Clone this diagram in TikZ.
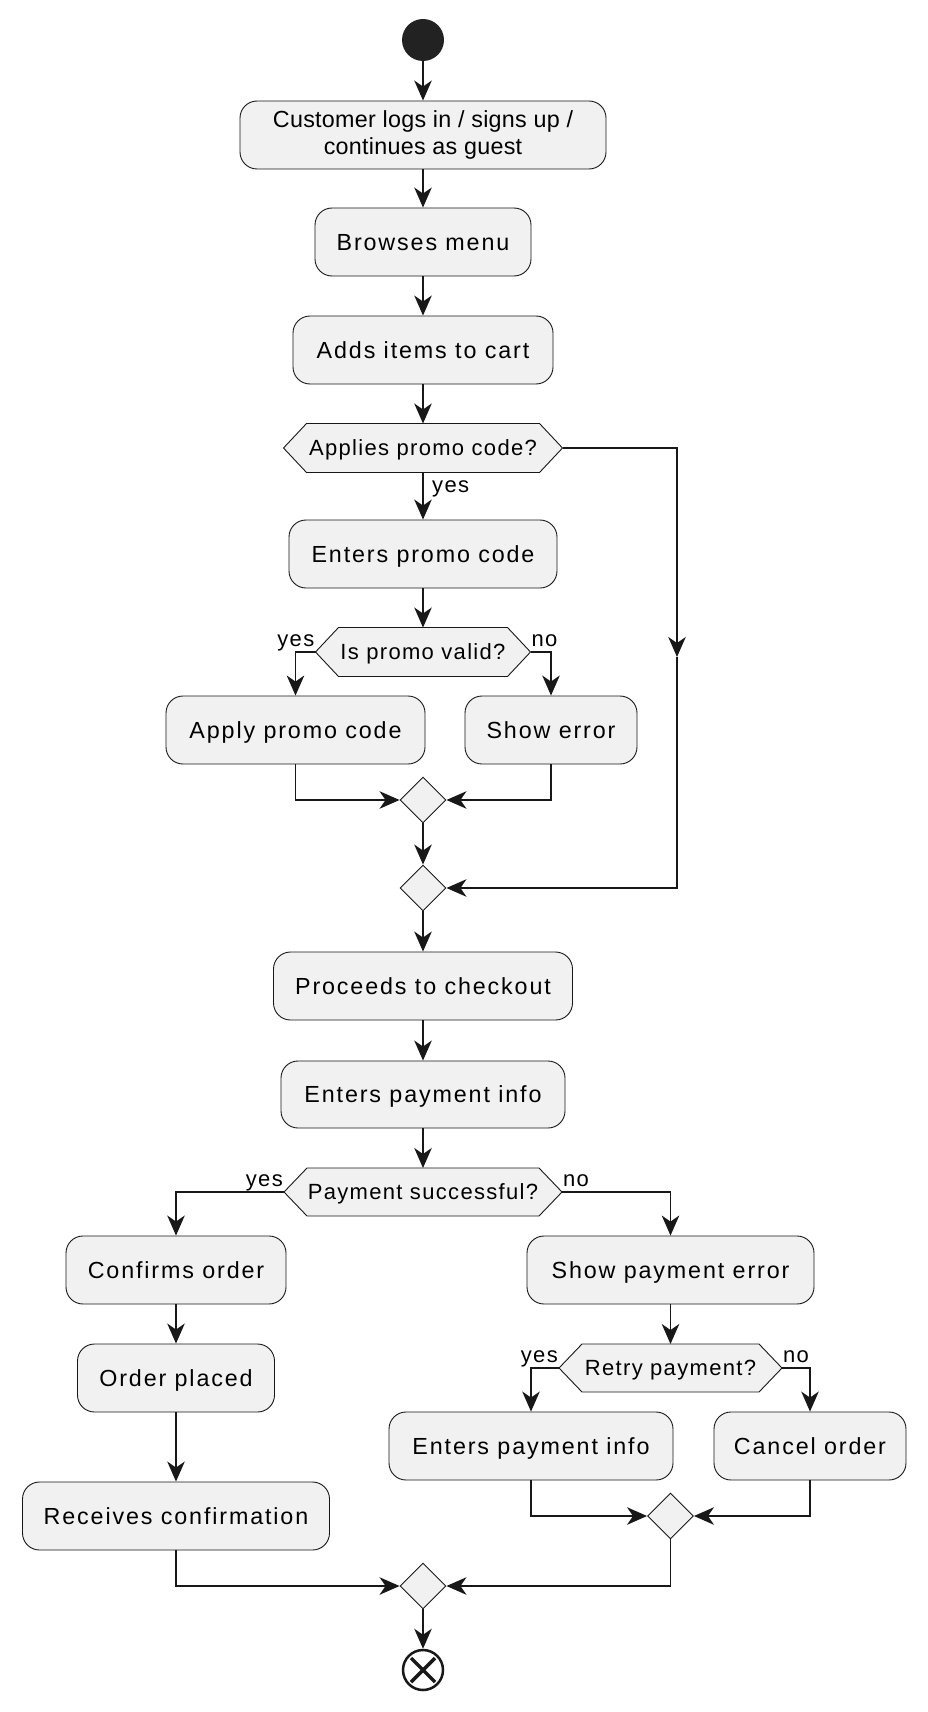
\documentclass[tikz,border=0pt]{standalone}
\usepackage{fontspec}
\setmainfont{Liberation Sans}
\newfontfamily\boxfam[LetterSpace=8]{Liberation Sans}
\newfontfamily\hexfam[LetterSpace=6]{Liberation Sans}
\newfontfamily\twofam[LetterSpace=1.2]{Liberation Sans}
\usetikzlibrary{arrows.meta,shapes.geometric,backgrounds}
\definecolor{cfill}{HTML}{F1F1F1}
\definecolor{cline}{HTML}{181818}
\definecolor{cstart}{HTML}{222222}
\tikzset{
  actbox/.style={draw=cline, fill=cfill, line width=0.9pt, rounded corners=17pt, inner sep=0pt,
    minimum height=68pt, text=black},
  oneline/.style={actbox, font=\boxfam\fontsize{23.3}{27}\selectfont, text height=16.7pt, text depth=0pt},
  hexnode/.style={inner sep=0pt, outer sep=0pt, minimum height=49pt, text=black,
    font=\hexfam\fontsize{22}{26}\selectfont, text height=15.7pt, text depth=0pt},
  hexline/.style={draw=cline, fill=cfill, line width=0.9pt},
  merge/.style={diamond, draw=cline, fill=cfill, line width=0.9pt, inner sep=0pt,
    minimum width=46pt, minimum height=46pt},
  flow/.style={draw=cline, line width=1.5pt, -{Stealth[length=20pt,width=17.5pt,inset=6pt]}},
  lbl/.style={font=\hexfam\fontsize{22}{26}\selectfont, inner sep=0pt, text=black},
}
\newcommand\hexbg[1]{%
  \draw[hexline] (#1.west) -- ([xshift=23pt]#1.north west) -- ([xshift=-23pt]#1.north east)
    -- (#1.east) -- ([xshift=-23pt]#1.south east) -- ([xshift=23pt]#1.south west) -- cycle;}
\begin{document}
\begin{tikzpicture}[x=1pt,y=-1pt]
\useasboundingbox (0,0) rectangle (928,1712);
\begin{scope}[on background layer]
  \fill[white] (0,0) rectangle (928,1712);
\end{scope}

% nodes
\node[circle, fill=cstart, minimum size=42pt, inner sep=0pt] (start) at (423,40) {};
\node[actbox, minimum width=366pt, align=center, font=\twofam\fontsize{23.3}{27}\selectfont] (n1) at (423,135) {Customer logs in / signs up /\\continues as guest};
\node[oneline, minimum width=216pt] (n2) at (423,242) {Browses menu};
\node[oneline, minimum width=260pt] (n3) at (423,350) {Adds items to cart};
\node[hexnode, minimum width=279pt] (d1) at (423,448) {Applies promo code?};
\node[oneline, minimum width=268pt] (n4) at (423,554) {Enters promo code};
\node[hexnode, minimum width=215pt] (d2) at (423,652) {Is promo valid?};
\node[oneline, minimum width=259pt] (n5) at (295.5,730) {Apply promo code};
\node[oneline, minimum width=172pt] (n6) at (551,730) {Show error};
\node[merge] (m1) at (423,800) {};
\node[merge] (m2) at (423,888) {};
\coordinate (bp) at (677,657);
\node[oneline, minimum width=299pt] (n7) at (423,986) {Proceeds to checkout};
\node[oneline, minimum width=284pt, minimum height=67pt] (n8) at (423,1094.5) {Enters payment info};
\node[hexnode, minimum width=278pt, minimum height=48pt] (d3) at (423,1192) {Payment successful?};
\node[oneline, minimum width=220pt] (n9) at (176,1270) {Confirms order};
\node[oneline, minimum width=287pt] (n10) at (670.5,1270) {Show payment error};
\node[oneline, minimum width=197pt] (n11) at (176,1378) {Order placed};
\node[hexnode, minimum width=223pt, minimum height=48pt] (d4) at (670.5,1368) {Retry payment?};
\node[oneline, minimum width=284pt] (n12) at (531,1446) {Enters payment info};
\node[oneline, minimum width=192pt] (n13) at (810,1446) {Cancel order};
\node[merge] (m3) at (670.5,1516) {};
\node[oneline, minimum width=307pt] (n14) at (176,1516) {Receives confirmation};
\node[merge] (m4) at (423,1586) {};
\node[circle, draw=cline, line width=2.5pt, fill=white, minimum size=40pt, inner sep=0pt] (end) at (423,1670) {};
\draw[cline, line width=3.5pt] ([shift={(-12pt,-12pt)}]end.center) -- ([shift={(12pt,12pt)}]end.center);
\draw[cline, line width=3.5pt] ([shift={(-12pt,12pt)}]end.center) -- ([shift={(12pt,-12pt)}]end.center);

% hexagon outlines behind their texts
\begin{scope}[on background layer]
  \hexbg{d1}\hexbg{d2}\hexbg{d3}\hexbg{d4}
\end{scope}

% labels
\node[lbl, anchor=base west] (ly1) at ([xshift=9pt,yshift=-19.5pt]d1.south) {yes};
\node[lbl, anchor=base east] (ly2) at ([xshift=-1pt,yshift=5.5pt]d2.west) {yes};
\node[lbl, anchor=base west] (ln2) at ([xshift=1pt,yshift=5.5pt]d2.east) {no};
\node[lbl, anchor=base east] (ly3) at ([xshift=-1pt,yshift=5.5pt]d3.west) {yes};
\node[lbl, anchor=base west] (ln3) at ([xshift=1pt,yshift=5.5pt]d3.east) {no};
\node[lbl, anchor=base east] (ly4) at ([xshift=-1pt,yshift=5.5pt]d4.west) {yes};
\node[lbl, anchor=base west] (ln4) at ([xshift=1pt,yshift=5.5pt]d4.east) {no};

% connectors
\draw[flow] (start) -- (n1);
\draw[flow] (n1) -- (n2);
\draw[flow] (n2) -- (n3);
\draw[flow] (n3) -- (d1);
\draw[flow] (d1) -- (n4);
\draw[flow] (d1.east) -| (bp);
\draw[flow] (bp) |- (m2.east);
\draw[flow] (n4) -- (d2);
\draw[flow] (d2.west) -| (n5.north);
\draw[flow] (d2.east) -| (n6.north);
\draw[flow] (n5.south) |- (m1.west);
\draw[flow] (n6.south) |- (m1.east);
\draw[flow] (m1) -- (m2);
\draw[flow] (m2) -- (n7);
\draw[flow] (n7) -- (n8);
\draw[flow] (n8) -- (d3);
\draw[flow] (d3.west) -| (n9.north);
\draw[flow] (d3.east) -| (n10.north);
\draw[flow] (n9) -- (n11);
\draw[flow] (n11) -- (n14);
\draw[flow] (n10) -- (d4);
\draw[flow] (d4.west) -| (n12.north);
\draw[flow] (d4.east) -| (n13.north);
\draw[flow] (n12.south) |- (m3.west);
\draw[flow] (n13.south) |- (m3.east);
\draw[flow] (m3.south) |- (m4.east);
\draw[flow] (n14.south) |- (m4.west);
\draw[flow] (m4) -- (end);
\end{tikzpicture}
\end{document}
